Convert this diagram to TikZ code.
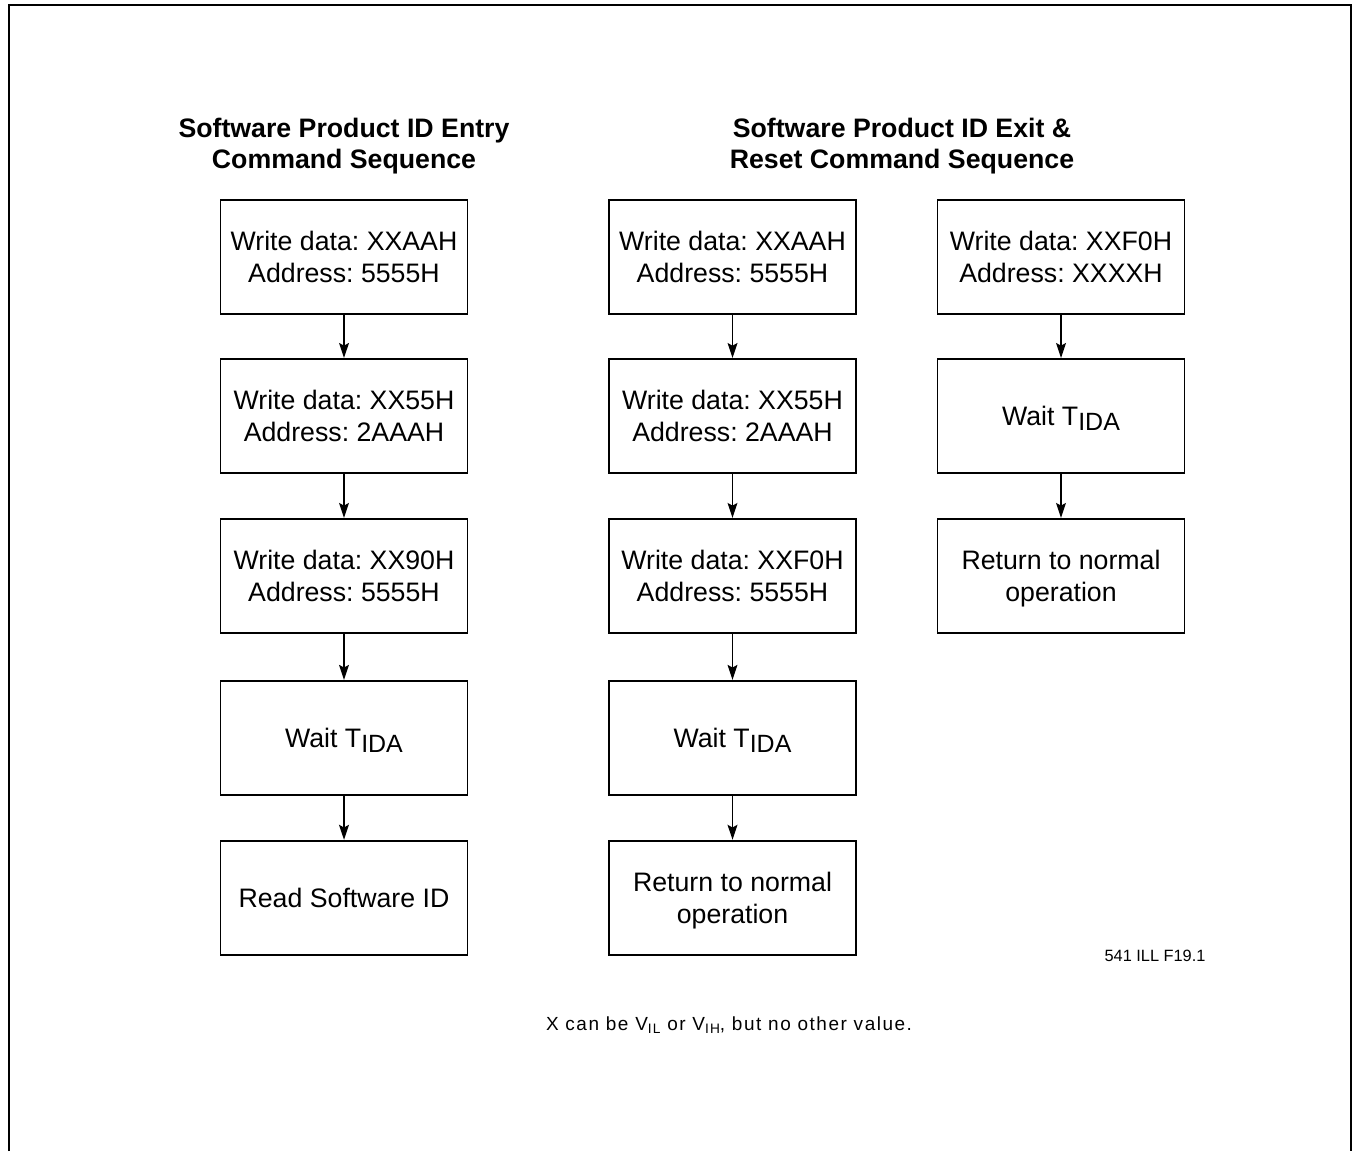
\documentclass[tikz,border=0pt]{standalone}
\usepackage{fontspec}
\setmainfont{Liberation Sans}
\usetikzlibrary{positioning,arrows.meta}
\frenchspacing

\newcommand{\tida}{T\raisebox{-0.35ex}{\fontsize{14.2}{16}\selectfont IDA}}
\newcommand{\vsub}[1]{V\raisebox{-0.3ex}{\fontsize{7.8}{9}\selectfont #1}}

\begin{document}
\begin{tikzpicture}[
  cmdnode/.style={rectangle,draw,line width=1.1pt,minimum width=4.94cm,minimum height=2.28cm,inner sep=2pt,text depth=0pt,align=center,font=\fontsize{15.2}{18.1}\selectfont},
  titlenode/.style={align=center,font=\fontsize{15.2}{18.1}\selectfont\bfseries},
  arr/.style={-{Stealth[length=8.5pt,width=5.6pt,inset=1.5pt]},line width=0.85pt},
]
\useasboundingbox (0,0) rectangle (27.06,-23.02);

% outer frame (open at the bottom)
\draw[line width=1.4pt] (0.18,-23.02) -- (0.18,-0.1) -- (27.02,-0.1) -- (27.02,-23.02);

% === Entry sequence ===
\node[titlenode] (ttlA) at (6.88,-2.92) {Software Product ID Entry\\Command Sequence};

\node[cmdnode] (A1) at (6.88,-5.14) {Write data: XXAAH\\Address: 5555H};
\node[cmdnode,below=0.86cm of A1] (A2) {Write data: XX55H\\Address: 2AAAH};
\node[cmdnode,below=0.88cm of A2] (A3) {Write data: XX90H\\Address: 5555H};
\node[cmdnode,below=0.92cm of A3] (A4) {Wait \tida};
\node[cmdnode,below=0.88cm of A4] (A5) {Read Software ID};

% === Exit & reset sequence ===
\node[titlenode] (ttlB) at (18.04,-2.92) {Software Product ID Exit \&\\Reset Command Sequence};

\node[cmdnode] (B1) at (14.65,-5.14) {Write data: XXAAH\\Address: 5555H};
\node[cmdnode,below=0.86cm of B1] (B2) {Write data: XX55H\\Address: 2AAAH};
\node[cmdnode,below=0.88cm of B2] (B3) {Write data: XXF0H\\Address: 5555H};
\node[cmdnode,below=0.92cm of B3] (B4) {Wait \tida};
\node[cmdnode,below=0.88cm of B4] (B5) {Return to normal\\operation};

\node[cmdnode] (C1) at (21.22,-5.14) {Write data: XXF0H\\Address: XXXXH};
\node[cmdnode,below=0.86cm of C1] (C2) {Wait \tida};
\node[cmdnode,below=0.88cm of C2] (C3) {Return to normal\\operation};

% connectors
\foreach \a/\b in {A1/A2,A2/A3,A3/A4,A4/A5,B1/B2,B2/B3,B3/B4,B4/B5,C1/C2,C2/C3}
  \draw[arr] (\a.south) -- (\b.north);

% notes
\node[font=\fontsize{9.3}{11}\selectfont] (figid) at (23.1,-19.12) {541 ILL F19.1};
\node[font=\fontsize{10.8}{12}\selectfont\addfontfeature{LetterSpace=8}] (note) at (14.58,-20.5) {X can be \vsub{IL} or \vsub{IH}, but no other value.};

\end{tikzpicture}
\end{document}
